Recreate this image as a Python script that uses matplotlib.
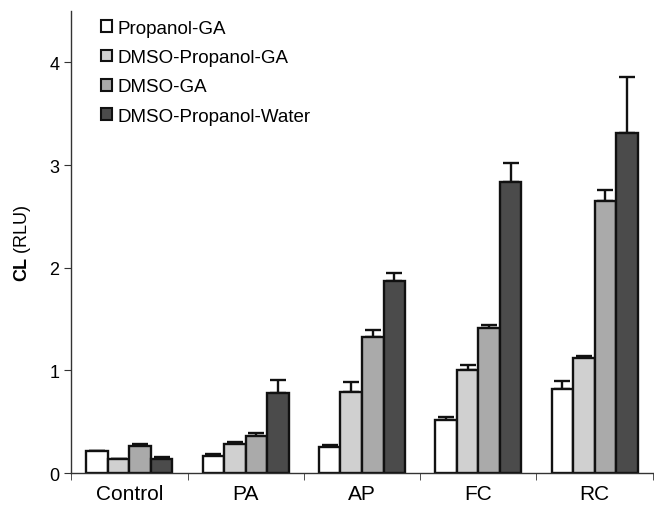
import numpy as np
import matplotlib
matplotlib.use("Agg")
import matplotlib.pyplot as plt
from matplotlib.patches import Patch

plt.rcParams["font.family"] = ["Liberation Sans", "DejaVu Sans"]
plt.rcParams["mathtext.fontset"] = "custom"
plt.rcParams["mathtext.bf"] = "Liberation Sans:bold"
plt.rcParams["mathtext.rm"] = "Liberation Sans"

categories = ["Control", "PA", "AP", "FC", "RC"]
series = ["Propanol-GA", "DMSO-Propanol-GA", "DMSO-GA", "DMSO-Propanol-Water"]
propanol_ga = [0.22, 0.17, 0.25, 0.52, 0.82]
propanol_ga_err = [0.0, 0.02, 0.02, 0.03, 0.08]
dmso_prop_ga = [0.14, 0.28, 0.79, 1.00, 1.12]
dmso_prop_ga_err = [0.0, 0.02, 0.10, 0.05, 0.02]
dmso_ga = [0.26, 0.36, 1.33, 1.41, 2.65]
dmso_ga_err = [0.02, 0.03, 0.06, 0.03, 0.11]
dmso_prop_water = [0.14, 0.78, 1.87, 2.84, 3.31]
dmso_prop_water_err = [0.015, 0.13, 0.08, 0.18, 0.55]

values = [propanol_ga, dmso_prop_ga, dmso_ga, dmso_prop_water]
errors = [propanol_ga_err, dmso_prop_ga_err, dmso_ga_err, dmso_prop_water_err]
colors = ["#ffffff", "#d0d0d0", "#aaaaaa", "#4b4b4b"]

fig = plt.figure(figsize=(6.54, 5.06), dpi=100)
ax = fig.add_axes([0.109, 0.063, 0.889, 0.913])

x = np.arange(len(categories))
w = 0.185
for i, (vals, errs, c) in enumerate(zip(values, errors, colors)):
    pos = x + (i - 1.5) * w
    ax.bar(pos, vals, width=w, color=c, edgecolor="#111111", linewidth=1.7, zorder=2)
    ax.errorbar(pos, vals, yerr=[np.zeros(len(errs)), errs], fmt="none",
                ecolor="#111111", elinewidth=1.7, capsize=6, capthick=1.7, zorder=1)

ax.set_xlim(-0.5, len(categories) - 0.5)
ax.set_ylim(0, 4.5)
ax.set_yticks([0, 1, 2, 3, 4])
ax.set_xticks(x)
ax.set_xticklabels(categories, fontsize=15)
ax.tick_params(axis="x", length=0, pad=8)
ax.set_xticks(np.arange(len(categories) + 1) - 0.5, minor=True)
ax.tick_params(axis="x", which="minor", length=5, direction="out", color="#333333")
ax.tick_params(axis="y", labelsize=13, length=5, color="#333333")
for s in ["top", "right"]:
    ax.spines[s].set_visible(False)
for s in ["left", "bottom"]:
    ax.spines[s].set_color("#333333")
    ax.spines[s].set_linewidth(1.0)

ax.set_ylabel(r"$\bf{CL}$ (RLU)", fontsize=13, labelpad=12)

handles = [Patch(facecolor=c, edgecolor="#111111", linewidth=1.5, label=s) for s, c in zip(series, colors)]
ax.legend(handles=handles, loc="upper left", bbox_to_anchor=(0.022, 1.018), frameon=False,
          fontsize=13.5, handlelength=0.6, handleheight=0.6, handletextpad=0.3, labelspacing=0.66)

fig.savefig("out.png", dpi=100)
